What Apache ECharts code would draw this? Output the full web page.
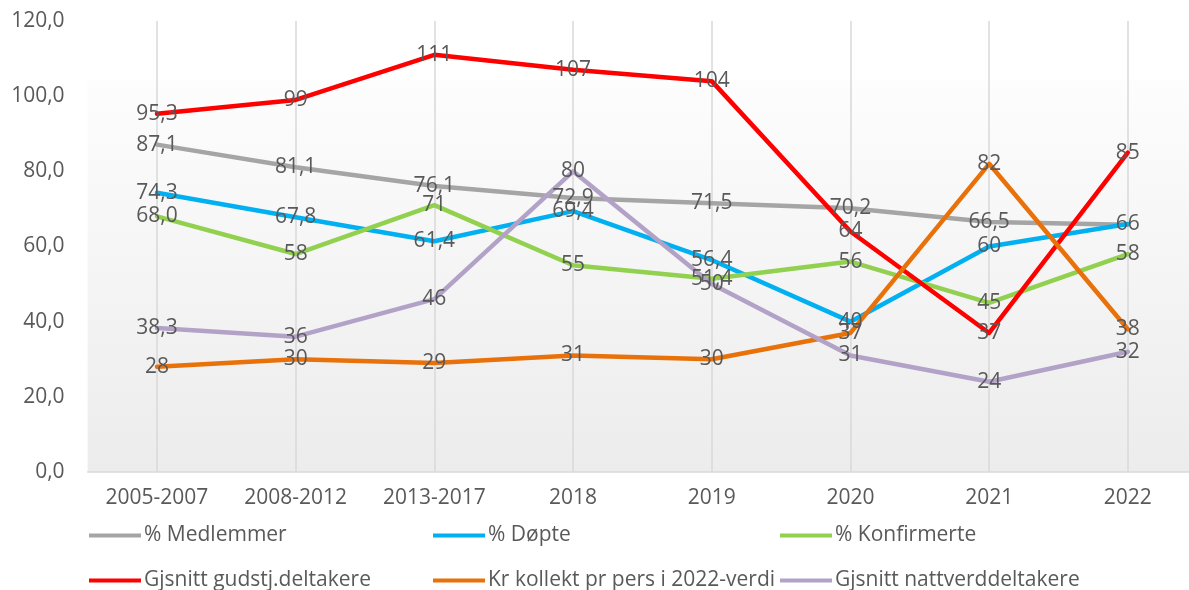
<!DOCTYPE html>
<html>
<head>
<meta charset="utf-8">
<script src="https://cdn.jsdelivr.net/npm/echarts@6/dist/echarts.min.js"></script>
<style>
html,body{margin:0;padding:0;background:#fff;}
#chart{width:1189px;height:590px;}
</style>
</head>
<body>
<div id="chart"></div>
<script>
const categories = ['2005-2007','2008-2012','2013-2017','2018','2019','2020','2021','2022'];
const yTicks = [0, 20, 40, 60, 80, 100, 120];

const medlemmer = [87.1, 81.1, 76.1, 72.9, 71.5, 70.2, 66.5, 65.8];
const medlemmerLabels = ['87,1','81,1','76,1','72,9','71,5','70,2','66,5',''];

const dopte = [74.3, 67.8, 61.4, 69.4, 56.4, 40, 60, 66];
const dopteLabels = ['74,3','67,8','61,4','69,4','56,4','40','60','66'];

const konfirmerte = [68.0, 58, 71, 55, 51.4, 56, 45, 58];
const konfirmerteLabels = ['68,0','58','71','55','51,4','56','45','58'];

const gudstj = [95.3, 99, 111, 107, 104, 64, 37, 85];
const gudstjLabels = ['95,3','99','111','107','104','64','37','85'];

const kollekt = [28, 30, 29, 31, 30, 37, 82, 38];
const kollektLabels = ['28','30','29','31','30','37','82','38'];

const nattverd = [38.3, 36, 46, 80, 50, 31, 24, 32];
const nattverdLabels = ['38,3','36','46','80','50','31','24','32'];

const seriesDefs = [
  {name: '% Medlemmer', data: medlemmer, labels: medlemmerLabels, color: '#a5a5a5'},
  {name: '% Døpte', data: dopte, labels: dopteLabels, color: '#00b0f0'},
  {name: '% Konfirmerte', data: konfirmerte, labels: konfirmerteLabels, color: '#92d050'},
  {name: 'Gjsnitt gudstj.deltakere', data: gudstj, labels: gudstjLabels, color: '#ff0000'},
  {name: 'Kr kollekt pr pers i 2022-verdi', data: kollekt, labels: kollektLabels, color: '#e8710a'},
  {name: 'Gjsnitt nattverddeltakere', data: nattverd, labels: nattverdLabels, color: '#b3a2c7'}
];

const FONT = 'Open Sans';
const TXT = '#595959';
const FS = 21;

const chart = echarts.init(document.getElementById('chart'), null, {renderer: 'canvas'});

const legendPos = [
  {left: 89, top: 525}, {left: 433, top: 525}, {left: 780, top: 525},
  {left: 89, top: 570}, {left: 433, top: 570}, {left: 780, top: 570}
];

const option = {
  backgroundColor: '#ffffff',
  animation: false,
  grid: {
    left: 87.6, width: 1109.6, top: 21, bottom: 118,
    containLabel: false,
    outerBoundsMode: 'none',
    show: true,
    borderWidth: 0,
    backgroundColor: {
      type: 'linear', x: 0, y: 0, x2: 0, y2: 1,
      colorStops: [
        {offset: 0, color: '#ffffff'},
        {offset: 0.13, color: '#ffffff'},
        {offset: 0.131, color: '#fdfdfd'},
        {offset: 1, color: '#ececec'}
      ]
    }
  },
  legend: seriesDefs.map((s, i) => ({
    data: [{name: s.name, itemStyle: {color: s.color, opacity: 1}}],
    left: legendPos[i].left,
    top: legendPos[i].top,
    icon: 'rect',
    itemWidth: 52,
    itemHeight: 4,
    itemGap: 0,
    padding: 0,
    itemStyle: {color: s.color, opacity: 1},
    textStyle: {fontFamily: FONT, fontSize: FS, color: TXT, padding: [0, 0, 0, -2]}
  })),
  xAxis: {
    type: 'category',
    data: categories,
    boundaryGap: true,
    axisLine: {show: true, lineStyle: {color: '#d9d9d9', width: 1.5}},
    axisTick: {show: false},
    axisLabel: {fontFamily: FONT, fontSize: FS, color: TXT, margin: 16, interval: 0},
    splitLine: {show: true, alignWithLabel: true, lineStyle: {color: '#d9d9d9', width: 1.5}}
  },
  yAxis: {
    type: 'value',
    min: yTicks[0],
    max: yTicks[yTicks.length - 1],
    interval: 20,
    axisLine: {show: false},
    axisTick: {show: false},
    splitLine: {show: false},
    axisLabel: {
      fontFamily: FONT, fontSize: FS, color: TXT, margin: 23,
      formatter: v => v.toFixed(1).replace('.', ',')
    }
  },
  series: seriesDefs.map(s => ({
    name: s.name,
    type: 'line',
    data: s.data,
    color: s.color,
    symbol: 'circle',
    symbolSize: 0.1,
    showSymbol: true,
    itemStyle: {color: s.color},
    lineStyle: {color: s.color, width: 4.5, cap: 'round', join: 'round'},
    label: {
      show: true,
      position: 'inside',
      fontFamily: FONT,
      fontSize: FS,
      color: TXT,
      formatter: p => s.labels[p.dataIndex]
    },
    labelLayout: {hideOverlap: false},
    emphasis: {disabled: true}
  }))
};

chart.setOption(option);
</script>
</body>
</html>
